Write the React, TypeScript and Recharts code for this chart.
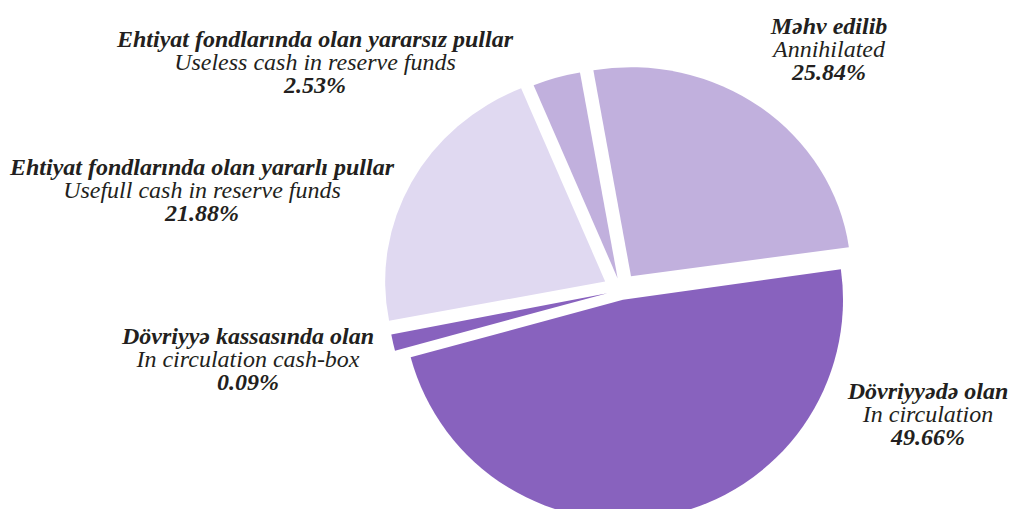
import { PieChart, Pie, Cell, Sector } from 'recharts';

// slice order runs counter-clockwise from the right-hand side
const namesAz = [
  'Məhv edilib',
  'Ehtiyat fondlarında olan yararsız pullar',
  'Ehtiyat fondlarında olan yararlı pullar',
  'Dövriyyə kassasında olan',
  'Dövriyyədə olan',
];
const namesEn = [
  'Annihilated',
  'Useless cash in reserve funds',
  'Usefull cash in reserve funds',
  'In circulation cash-box',
  'In circulation',
];
const percents = [25.84, 2.53, 21.88, 0.09, 49.66];

const colors = ['#C1B0DD', '#C1B0DD', '#E0D9F1', '#8862BE', '#8862BE'];
const explode = [17, 12, 18, 14, 10];
// the upper slices are drawn slightly flattened in the original
const squash = [0.95, 0.95, 0.95, 1, 1];
const labelAnchors = [
  [829, 34],
  [315, 47],
  [202, 175],
  [248, 344],
  [928, 399],
];

const data = namesAz.map((name, i) => ({ name, value: percents[i] }));

const RADIAN = Math.PI / 180;
const FONT = 'Liberation Serif';

function ExplodedSector(props: any) {
  const i = namesAz.indexOf(props.name);
  const d = explode[i] ?? 0;
  const k = squash[i] ?? 1;
  const ax = props.cx + d * Math.cos(-props.midAngle * RADIAN);
  const ay = props.cy + d * Math.sin(-props.midAngle * RADIAN);
  return (
    <g transform={`translate(${ax} ${ay}) scale(1 ${k}) translate(${-ax} ${-ay})`}>
      <Sector
        cx={ax}
        cy={ay}
        innerRadius={0}
        outerRadius={props.outerRadius}
        startAngle={props.startAngle}
        endAngle={props.endAngle}
        fill={props.fill}
        stroke="none"
      />
    </g>
  );
}

function SliceLabel(props: any) {
  const i = namesAz.indexOf(props.name);
  if (i < 0) return null;
  const [x, y] = labelAnchors[i];
  return (
    <text
      x={x}
      y={y}
      textAnchor="middle"
      fill="#231F20"
      style={{ fontFamily: FONT, fontStyle: 'italic', fontSize: 24 }}
    >
      <tspan x={x} dy={0} fontWeight="bold">{namesAz[i]}</tspan>
      <tspan x={x} dy={23}>{namesEn[i]}</tspan>
      <tspan x={x} dy={23} fontWeight="bold">{percents[i].toFixed(2)}%</tspan>
    </text>
  );
}

export default function App() {
  return (
    <div style={{ width: 1013, height: 509, background: '#fff' }}>
      <style>{'body{margin:0}'}</style>
      <PieChart width={1013} height={509}>
        <Pie
          data={data}
          dataKey="value"
          nameKey="name"
          cx={616}
          cy={285}
          outerRadius={220}
          startAngle={8}
          endAngle={368}
          minAngle={4}
          stroke="none"
          shape={ExplodedSector}
          label={SliceLabel}
          labelLine={false}
          isAnimationActive={false}
        >
          {data.map((d, i) => (
            <Cell key={d.name} fill={colors[i]} />
          ))}
        </Pie>
      </PieChart>
    </div>
  );
}
